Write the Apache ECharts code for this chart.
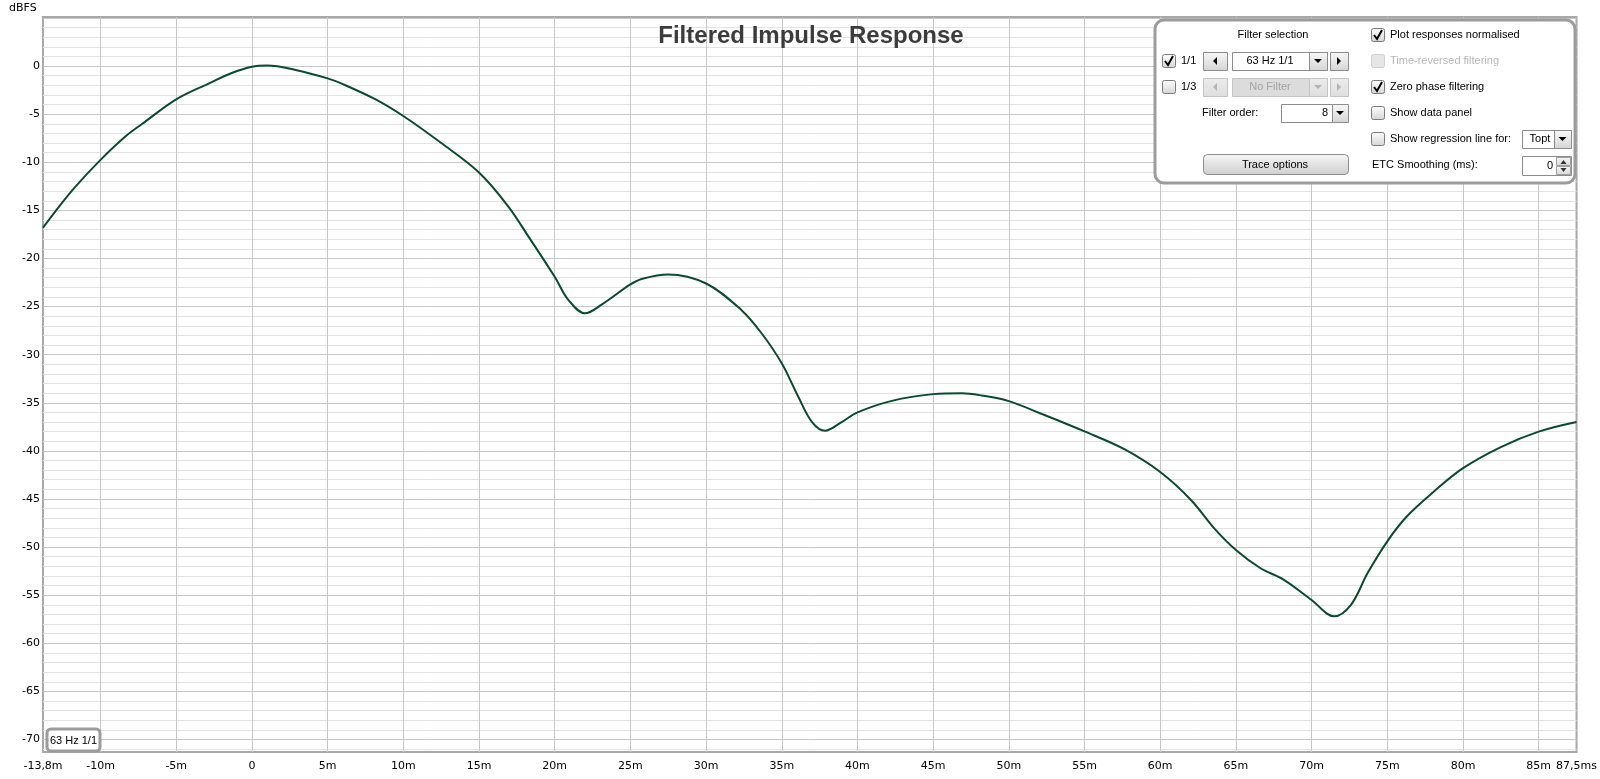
<!DOCTYPE html>
<html>
<head>
<meta charset="utf-8">
<script src="https://cdn.jsdelivr.net/npm/echarts@6/dist/echarts.min.js"></script>
<style>
html,body{margin:0;padding:0;background:#fff;}
#chart{width:1600px;height:779px;}
</style>
</head>
<body>
<div id="chart"></div>
<script>
// ---- data (time in ms, level in dBFS) ----
const timeMs = [-13.8, -12.74, -11.64, -10, -8.34, -7.24, -5, -2.83, -1.29, 0, 1.0, 2.89, 5, 5.97, 8.17, 10, 12.53, 15, 16.94, 18.26, 20, 20.9, 22.0, 23.1, 25, 25.8, 27.5, 30, 32.36, 33.68, 35, 36.1, 37.0, 37.86, 38.96, 40, 42.27, 45, 46.9, 48.2, 50, 52.14, 55, 57.6, 60, 62.03, 63.6, 65, 66.63, 68.17, 70, 71.48, 72.6, 73.7, 75, 76.3, 78.1, 80, 82.5, 85, 87.5];
const levelDb = [-16.8, -14.6, -12.5, -9.75, -7.3, -6.0, -3.46, -1.8, -0.7, -0.07, 0.05, -0.4, -1.28, -1.85, -3.46, -5.19, -8.03, -11.07, -14.6, -17.7, -21.9, -24.3, -25.7, -24.8, -22.7, -22.1, -21.66, -22.6, -25.4, -27.8, -30.9, -34.4, -37.0, -37.9, -37.0, -36.0, -34.8, -34.1, -34.0, -34.24, -34.83, -36.14, -37.98, -39.8, -42.2, -45.1, -48.1, -50.3, -52.2, -53.4, -55.5, -57.2, -56.0, -52.7, -49.4, -46.8, -44.2, -41.8, -39.6, -38.0, -37.0];
const xTickValues = [-10, -5, 0, 5, 10, 15, 20, 25, 30, 35, 40, 45, 50, 55, 60, 65, 70, 75, 80, 85];
const xLabelValues = [-13.8, -10, -5, 0, 5, 10, 15, 20, 25, 30, 35, 40, 45, 50, 55, 60, 65, 70, 75, 80, 85, 87.5];
const xLabelTexts = ['-13,8m', '-10m', '-5m', '0', '5m', '10m', '15m', '20m', '25m', '30m', '35m', '40m', '45m', '50m', '55m', '60m', '65m', '70m', '75m', '80m', '85m', '87,5ms'];
const yMajorValues = [-70, -65, -60, -55, -50, -45, -40, -35, -30, -25, -20, -15, -10, -5, 0, 5];
const yLabelValues = [-70, -65, -60, -55, -50, -45, -40, -35, -30, -25, -20, -15, -10, -5, 0];
const yMinorValues = [-71, -69, -68, -67, -66, -64, -63, -62, -61, -59, -58, -57, -56, -54, -53, -52, -51, -49, -48, -47, -46, -44, -43, -42, -41, -39, -38, -37, -36, -34, -33, -32, -31, -29, -28, -27, -26, -24, -23, -22, -21, -19, -18, -17, -16, -14, -13, -12, -11, -9, -8, -7, -6, -4, -3, -2, -1, 1, 2, 3, 4];
const xMin = -13.8, xMax = 87.5, yMin = -71.3, yMax = 5.1;

const seriesData = timeMs.map((t, i) => [t, levelDb[i]]);

// ---- UI panel decoration helpers ----
const UI_FONT = '"Liberation Sans", Arial, sans-serif';
const grad = (a, b) => ({type: 'linear', x: 0, y: 0, x2: 0, y2: 1, colorStops: [{offset: 0, color: a}, {offset: 1, color: b}]});
function txt(x, y, s, opt) {
  opt = opt || {};
  return {type: 'text', x: x, y: y, z: 110, silent: true,
    style: {text: s, fill: opt.color || '#000', font: (opt.weight || 'normal') + ' ' + (opt.size || 11) + 'px ' + (opt.family || UI_FONT),
      textAlign: opt.align || 'left', textVerticalAlign: 'middle'}};
}
function box(x, y, w, h, fill, stroke, r) {
  return {type: 'rect', z: 105, silent: true, shape: {x: x, y: y, width: w, height: h, r: r || 0},
    style: {fill: fill, stroke: stroke || '#8c8c8c', lineWidth: 1}};
}
function tri(points, color) {
  return {type: 'polygon', z: 110, silent: true, shape: {points: points}, style: {fill: color}};
}
function checkbox(x, y, checked, disabled) {
  const els = [box(x + 0.5, y + 0.5, 13, 13, disabled ? '#e6e6e6' : grad('#ffffff', '#d4d4d4'), disabled ? '#d0d0d0' : '#7c7c7c', 2)];
  if (checked) {
    els.push({type: 'polyline', z: 111, silent: true, shape: {points: [[x + 3, y + 7], [x + 6, y + 11], [x + 11, y + 2]]},
      style: {stroke: '#000', lineWidth: 2, fill: null}});
  }
  return els;
}
function arrowBtn(x, y, w, h, dir, disabled) {
  const cx = x + w / 2, cy = y + h / 2;
  const col = disabled ? '#b4b4b4' : '#000';
  const els = [box(x + 0.5, y + 0.5, w, h, disabled ? grad('#ececec', '#dedede') : grad('#f8f8f8', '#d4d4d4'), disabled ? '#c4c4c4' : '#8c8c8c')];
  if (dir === 'left') els.push(tri([[cx + 2, cy - 4], [cx + 2, cy + 4], [cx - 2, cy]], col));
  if (dir === 'right') els.push(tri([[cx - 2, cy - 4], [cx - 2, cy + 4], [cx + 2, cy]], col));
  if (dir === 'down') els.push(tri([[cx - 4, cy - 2], [cx + 4, cy - 2], [cx, cy + 2]], col));
  return els;
}

const panel = [];
panel.push({type: 'rect', z: 100, silent: true, shape: {x: 1155, y: 20, width: 420, height: 163, r: 9},
  style: {fill: '#fff', stroke: '#9c9c9c', lineWidth: 3}});
panel.push(txt(1273, 35, 'Filter selection', {align: 'center'}));
// row 1
panel.push(...checkbox(1162, 54, true));
panel.push(txt(1181, 61, '1/1'));
panel.push(...arrowBtn(1203, 52, 24, 18, 'left'));
panel.push(box(1232.5, 52.5, 95, 18, '#fff'));
panel.push(txt(1270, 61, '63 Hz 1/1', {align: 'center'}));
panel.push(...arrowBtn(1309, 52, 18, 18, 'down'));
panel.push(...arrowBtn(1330, 52, 18, 18, 'right'));
// row 2
panel.push(...checkbox(1162, 80, false));
panel.push(txt(1181, 87, '1/3'));
panel.push(...arrowBtn(1203, 78, 24, 18, 'left', true));
panel.push(box(1232.5, 78.5, 95, 18, '#dcdcdc', '#c4c4c4'));
panel.push(txt(1270, 87, 'No Filter', {align: 'center', color: '#a4a4a4'}));
panel.push(...arrowBtn(1309, 78, 18, 18, 'down', true));
panel.push(...arrowBtn(1330, 78, 18, 18, 'right', true));
// filter order
panel.push(txt(1202, 113, 'Filter order:'));
panel.push(box(1281.5, 104.5, 51, 18, '#fff'));
panel.push(txt(1328, 113, '8', {align: 'right'}));
panel.push(...arrowBtn(1332, 104, 16, 18, 'down'));
// trace options button
panel.push(box(1203.5, 154.5, 145, 20, grad('#f6f6f6', '#cfcfcf'), '#8c8c8c', 4));
panel.push(txt(1275, 165, 'Trace options', {align: 'center'}));
// right column
panel.push(...checkbox(1371, 28, true));
panel.push(txt(1390, 35, 'Plot responses normalised'));
panel.push(...checkbox(1371, 54, false, true));
panel.push(txt(1390, 61, 'Time-reversed filtering', {color: '#b8b8b8'}));
panel.push(...checkbox(1371, 80, true));
panel.push(txt(1390, 87, 'Zero phase filtering'));
panel.push(...checkbox(1371, 106, false));
panel.push(txt(1390, 113, 'Show data panel'));
panel.push(...checkbox(1371, 132, false));
panel.push(txt(1390, 139, 'Show regression line for:'));
panel.push(box(1522.5, 130.5, 49, 18, '#fff'));
panel.push(txt(1540, 139, 'Topt', {align: 'center'}));
panel.push(...arrowBtn(1554, 130, 17, 18, 'down'));
panel.push(txt(1372, 165, 'ETC Smoothing (ms):'));
panel.push(box(1522.5, 156.5, 49, 19, '#fff'));
panel.push(txt(1553, 166, '0', {align: 'right'}));
panel.push(box(1556.5, 157.5, 14, 8, grad('#f8f8f8', '#d8d8d8'), '#a0a0a0'));
panel.push(box(1556.5, 166.5, 14, 8, grad('#f8f8f8', '#d8d8d8'), '#a0a0a0'));
panel.push(tri([[1560.5, 164], [1566.5, 164], [1563.5, 160]], '#333'));
panel.push(tri([[1560.5, 168], [1566.5, 168], [1563.5, 172]], '#333'));
// trace label bottom-left
panel.push({type: 'rect', z: 100, silent: true, shape: {x: 47, y: 729, width: 53, height: 22, r: 4},
  style: {fill: '#fff', stroke: '#9c9c9c', lineWidth: 3}});
panel.push(txt(73.5, 740.5, '63 Hz 1/1', {align: 'center'}));
// axis unit label
panel.push(txt(9, 8, 'dBFS', {family: '"DejaVu Sans", sans-serif'}));

const AXIS_FONT = '"DejaVu Sans", sans-serif';
const chart = echarts.init(document.getElementById('chart'), null, {renderer: 'canvas'});
chart.setOption({
  animation: false,
  backgroundColor: '#ffffff',
  title: {
    text: 'Filtered Impulse Response', left: 806, top: 19, textAlign: 'center',
    textStyle: {fontFamily: '"Liberation Sans", Arial, sans-serif', fontWeight: 'bold', fontSize: 24, color: '#3c3c3c'}
  },
  grid: {left: 43, top: 17, right: 22, bottom: 27, show: true, borderColor: '#a8a8a8', borderWidth: 2, backgroundColor: '#fff', containLabel: false},
  xAxis: {
    type: 'value', min: xMin, max: xMax,
    axisLine: {show: false},
    axisTick: {show: false, customValues: xTickValues},
    splitLine: {show: true, lineStyle: {color: '#c8c8c8', width: 1}},
    axisLabel: {
      customValues: xLabelValues, margin: 9, color: '#000', fontFamily: AXIS_FONT, fontSize: 11,
      formatter: (v) => { const i = xLabelValues.findIndex(a => Math.abs(a - v) < 1e-6); return i >= 0 ? xLabelTexts[i] : ''; }
    }
  },
  yAxis: [{
    type: 'value', min: yMin, max: yMax,
    axisLine: {show: false},
    axisTick: {show: false, customValues: yMinorValues},
    axisLabel: {show: false},
    splitLine: {show: true, lineStyle: {color: '#e3e3e3', width: 1}}
  }, {
    type: 'value', min: yMin, max: yMax, position: 'left',
    axisLine: {show: false},
    axisTick: {show: false, customValues: yMajorValues},
    axisLabel: {customValues: yLabelValues, margin: 3, color: '#000', fontFamily: AXIS_FONT, fontSize: 11},
    splitLine: {show: true, lineStyle: {color: '#c8c8c8', width: 1}}
  }],
  graphic: panel,
  series: [{
    type: 'line', xAxisIndex: 0, yAxisIndex: 0, data: seriesData,
    smooth: 0.35, showSymbol: false, symbol: 'none',
    lineStyle: {color: '#0b4a2f', width: 2}, z: 3
  }]
});
</script>
</body>
</html>
